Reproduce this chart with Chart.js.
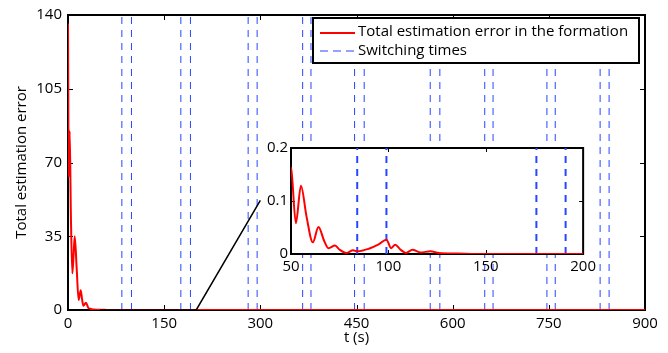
<!DOCTYPE html>
<html>
<head>
<meta charset="utf-8">
<script src="https://cdn.jsdelivr.net/npm/chart.js@4.4.1/dist/chart.umd.min.js"></script>
<style>
  body { margin: 0; background: #fff; }
  #wrap { position: relative; width: 668px; height: 353px; }
  #main { position: absolute; left: 0; top: 0; }
  #inset { position: absolute; left: 230px; top: 130px; }
</style>
</head>
<body>
<div id="wrap">
  <canvas id="main" width="668" height="353"></canvas>
  <canvas id="inset" width="370" height="150"></canvas>
</div>
<script>
// time (s) and total estimation error
var times  = [0, 1.1, 2.6, 4.5, 6.7, 8.5, 10.5, 13.5, 16.6, 19.8, 22, 24, 28, 31.7, 36, 40, 45,
              50, 52.5, 55.1, 58, 61.2, 64.1, 67, 69.2, 72.6, 75, 78.5, 81.9, 84, 90, 95, 99,
              101.4, 103.5, 106, 109, 112.4, 116.5, 121.6, 126, 135, 150, 200, 300, 450, 600, 750, 900];
var errors = [136, 63, 85, 45, 17.4, 25, 35, 20, 4.7, 9.4, 5, 2, 3.4, 1, 0.5, 0.2, 0.17,
              0.162, 0.058, 0.129, 0.07, 0.022, 0.051, 0.025, 0.011, 0.016, 0.008, 0.002, 0.007, 0.005, 0.01, 0.018, 0.027,
              0.011, 0.0175, 0.009, 0.002, 0.008, 0.003, 0.005, 0.002, 0.001, 0, 0, 0, 0, 0, 0, 0];
var switchTimes = [84, 99, 176, 191, 281, 295, 366, 379, 447, 462, 565, 580, 650, 663, 747, 760, 830, 844];
// zoom marker: box edge on the axis plus connector
var zoomLine = [[50, 0], [200, 0], [300, 52]];

var xTicks = [0, 900, 150];
var yTicks = [0, 140, 35];
var insetX = [50, 200, 50];
var insetY = [0, 0.2, 0.1];

var FONT = { family: "'Open Sans', sans-serif", size: 15 };
var BLUE = 'rgb(40,70,255)';

function pts(xs, ys) {
  var out = [];
  for (var i = 0; i < xs.length; i++) out.push({ x: xs[i], y: ys[i] });
  return out;
}

function switchSets(lo, hi, ymax, width) {
  var sets = [];
  switchTimes.forEach(function (t) {
    if (t < lo || t > hi) return;
    sets.push({
      data: [{ x: t, y: 0 }, { x: t, y: ymax }],
      borderColor: BLUE, borderWidth: width, borderDash: [7, 6],
      pointRadius: 0, order: 3
    });
  });
  return sets;
}

// box around plot area + inward ticks, matlab style (drawn under the lines)
function boxPlugin(tickLen) {
  return {
    id: 'box',
    beforeDatasetsDraw: function (chart) {
      var a = chart.chartArea, c = chart.ctx;
      var xs = chart.scales.x, ys = chart.scales.y;
      c.save();
      c.fillStyle = '#fff';
      c.fillRect(a.left, a.top, a.right - a.left, a.bottom - a.top);
      c.strokeStyle = '#000';
      c.lineWidth = 1;
      xs.ticks.forEach(function (t) {
        var px = Math.round(xs.getPixelForValue(t.value)) + 0.5;
        c.beginPath();
        c.moveTo(px, a.bottom); c.lineTo(px, a.bottom - tickLen);
        c.moveTo(px, a.top); c.lineTo(px, a.top + tickLen);
        c.stroke();
      });
      ys.ticks.forEach(function (t) {
        var py = Math.round(ys.getPixelForValue(t.value)) + 0.5;
        c.beginPath();
        c.moveTo(a.left, py); c.lineTo(a.left + tickLen, py);
        c.moveTo(a.right, py); c.lineTo(a.right - tickLen, py);
        c.stroke();
      });
      c.lineWidth = 2;
      c.strokeRect(a.left, a.top, a.right - a.left, a.bottom - a.top);
      c.restore();
    }
  };
}

var legendPlugin = {
  id: 'legendBox',
  afterDraw: function (chart) {
    var c = chart.ctx;
    c.save();
    c.fillStyle = '#fff';
    c.fillRect(313, 18, 326, 45);
    c.lineWidth = 2;
    c.strokeStyle = '#000';
    c.strokeRect(313, 18, 326, 45);
    c.strokeStyle = 'red';
    c.beginPath(); c.moveTo(320, 33); c.lineTo(355, 33); c.stroke();
    c.strokeStyle = BLUE;
    c.lineWidth = 1;
    c.setLineDash([8, 5]);
    c.beginPath(); c.moveTo(320, 51); c.lineTo(355, 51); c.stroke();
    c.setLineDash([]);
    c.fillStyle = '#000';
    c.font = FONT.size + 'px ' + FONT.family;
    c.textBaseline = 'middle';
    c.fillText('Total estimation error in the formation', 358, 32);
    c.fillText('Switching times', 358, 51);
    c.restore();
  }
};

var mainSets = [
  { data: pts(times, errors), borderColor: 'red', borderWidth: 2, pointRadius: 0,
    cubicInterpolationMode: 'monotone', order: 1 },
  { data: zoomLine.map(function (p) { return { x: p[0], y: p[1] }; }),
    borderColor: '#000', borderWidth: 1.5, pointRadius: 0, order: 0 }
].concat(switchSets(0, 900, 140, 1));

new Chart(document.getElementById('main'), {
  type: 'line',
  data: { datasets: mainSets },
  options: {
    responsive: false, animation: false, devicePixelRatio: 1,
    layout: { padding: { top: 13, right: 23, left: 0, bottom: 0 } },
    plugins: { legend: { display: false }, tooltip: { enabled: false } },
    scales: {
      x: {
        type: 'linear', min: xTicks[0], max: xTicks[1],
        ticks: { stepSize: xTicks[2], color: '#000', font: FONT, padding: 5, maxRotation: 0 },
        grid: { display: false, drawTicks: false }, border: { display: false },
        title: { display: true, text: 't (s)', color: '#000', font: FONT, padding: { top: 0, bottom: 6 } },
        afterFit: function (s) { s.height = 43; }
      },
      y: {
        type: 'linear', min: yTicks[0], max: yTicks[1],
        ticks: { stepSize: yTicks[2], color: '#000', font: FONT, padding: 6 },
        grid: { display: false, drawTicks: false }, border: { display: false },
        title: { display: true, text: 'Total estimation error', color: '#000', font: FONT, padding: { top: 13, bottom: 0 } },
        afterFit: function (s) { s.width = 68; }
      }
    }
  },
  plugins: [boxPlugin(5), legendPlugin]
});

var insetSets = [
  { data: pts(times, errors), borderColor: 'red', borderWidth: 2, pointRadius: 0,
    cubicInterpolationMode: 'monotone', order: 1 }
].concat(switchSets(insetX[0], insetX[1], insetY[1], 2));

new Chart(document.getElementById('inset'), {
  type: 'line',
  data: { datasets: insetSets },
  options: {
    responsive: false, animation: false, devicePixelRatio: 1,
    layout: { padding: { top: 18, right: 15, left: 0, bottom: 0 } },
    plugins: { legend: { display: false }, tooltip: { enabled: false } },
    scales: {
      x: {
        type: 'linear', min: insetX[0], max: insetX[1],
        ticks: { stepSize: insetX[2], color: '#000', font: FONT, padding: 4, maxRotation: 0 },
        grid: { display: false, drawTicks: false }, border: { display: false },
        afterFit: function (s) { s.height = 26; }
      },
      y: {
        type: 'linear', min: insetY[0], max: insetY[1],
        ticks: { stepSize: insetY[2], color: '#000', font: FONT, padding: 3 },
        grid: { display: false, drawTicks: false }, border: { display: false },
        afterFit: function (s) { s.width = 61; }
      }
    }
  },
  plugins: [boxPlugin(4)]
});
</script>
</body>
</html>
